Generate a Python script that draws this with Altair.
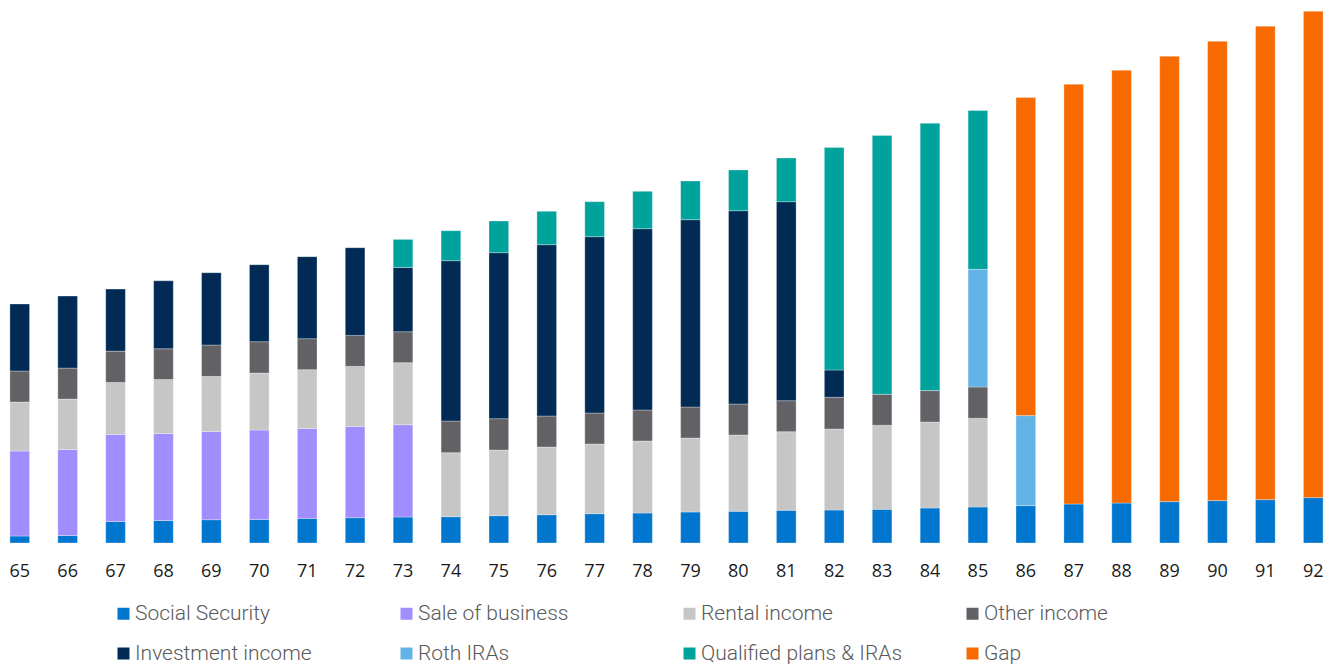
import altair as alt
import pandas as pd

ages = list(range(65, 93))

series_names = ["Social Security", "Sale of business", "Rental income", "Other income",
                "Investment income", "Roth IRAs", "Qualified plans & IRAs", "Gap"]
series_colors = ["#0076CE", "#A18DFE", "#C6C6C6", "#616166",
                 "#012A55", "#63B4E6", "#00A29C", "#F66A00"]

social_security = [7, 7.5, 21.5, 22.5, 23.3, 23.6, 24.6, 25.3, 26, 26.3, 27.3, 28.3, 29.3, 30,
                   31, 31.7, 32.7, 33, 33.7, 35, 36, 37.4, 39, 40, 41.4, 42.4, 43.4, 45.4]
sale_of_business = [85, 86, 87, 87, 88.3, 89.4, 90, 91.3, 92.3, 0, 0, 0, 0, 0,
                    0, 0, 0, 0, 0, 0, 0, 0, 0, 0, 0, 0, 0, 0]
rental_income = [49, 50.4, 52, 54, 55, 57, 58.7, 60, 62, 64, 65.7, 67.7, 69.7, 72,
                 74, 76.3, 78.6, 81, 84, 86, 88.7, 0, 0, 0, 0, 0, 0, 0]
other_income = [31, 31, 31.4, 30.7, 31.4, 31.3, 31, 31, 31, 31.7, 31.3, 31, 31, 31,
                31, 31, 31, 31.7, 31, 31.4, 31.3, 0, 0, 0, 0, 0, 0, 0]
investment_income = [67, 72, 62, 68, 72.3, 77, 82, 87.7, 64.3, 160.3, 166, 171.3, 176.3, 181.3,
                     187.3, 193.3, 199, 27.3, 0, 0, 0, 0, 0, 0, 0, 0, 0, 0]
roth_iras = [0, 0, 0, 0, 0, 0, 0, 0, 0, 0, 0, 0, 0, 0,
             0, 0, 0, 0, 0, 0, 117.7, 90, 0, 0, 0, 0, 0, 0]
qualified_plans = [0, 0, 0, 0, 0, 0, 0, 0, 28, 30, 31.7, 33.4, 35, 37.4,
                   38.7, 40.7, 43.7, 222.4, 258.7, 267.3, 158.7, 0, 0, 0, 0, 0, 0, 0]
gap = [0, 0, 0, 0, 0, 0, 0, 0, 0, 0, 0, 0, 0, 0,
       0, 0, 0, 0, 0, 0, 0, 318, 419.7, 432.7, 445.3, 459.3, 473.3, 486.3]

series_values = [social_security, sale_of_business, rental_income, other_income,
                 investment_income, roth_iras, qualified_plans, gap]

rows = []
for si, (name, vals) in enumerate(zip(series_names, series_values)):
    for age, v in zip(ages, vals):
        if v > 0:
            rows.append({"age": age, "series": name, "value": v, "order": si})
df = pd.DataFrame(rows)

chart = alt.Chart(df).mark_bar(stroke="#ffffff", strokeWidth=0.5, strokeOpacity=0.6).encode(
    x=alt.X("age:O", title=None,
            scale=alt.Scale(paddingInner=0.59, paddingOuter=0.04),
            axis=alt.Axis(labelAngle=0, ticks=False, domain=False, labelPadding=19,
                          labelFontSize=18, labelFont="Open Sans", labelColor="#1a1a1a")),
    y=alt.Y("value:Q", stack="zero", axis=None,
            scale=alt.Scale(domain=[0, 535], nice=False, zero=True)),
    color=alt.Color("series:N",
                    scale=alt.Scale(domain=series_names, range=series_colors),
                    legend=alt.Legend(title=None, orient="none", legendX=105, legendY=595,
                                      direction="horizontal",
                                      columns=4, gridAlign="all", columnPadding=59,
                                      rowPadding=18, symbolType="square", symbolSize=144,
                                      symbolStrokeWidth=0, labelFont="Roboto",
                                      labelFontSize=21, labelFontWeight=300,
                                      labelColor="#595959", labelOffset=1,
                                      labelLimit=400, padding=0)),
    order=alt.Order("order:Q", sort="ascending"),
).properties(
    width=1317, height=535,
    padding={"left": 0, "top": 0, "right": 0, "bottom": 121},
    autosize=alt.AutoSizeParams(type="none"),
).configure_view(strokeWidth=0)

chart.save("out.html", embed_options={"renderer": "svg", "actions": False})
